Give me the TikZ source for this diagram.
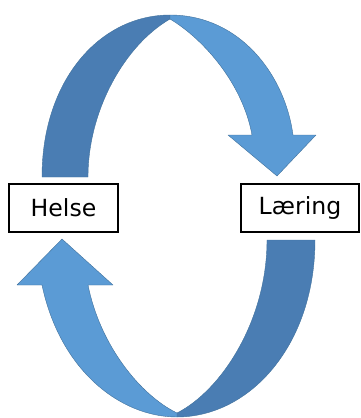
\documentclass[tikz,border=0pt]{standalone}
\usepackage{fontspec}
\setmainfont{DejaVu Sans}
\usepackage{tikz}
\definecolor{frontblue}{HTML}{5B9BD5}
\definecolor{backblue}{HTML}{4A7DB3}
\definecolor{edgeblue}{HTML}{41719C}

\begin{document}
\begin{tikzpicture}[x=1pt, y=-1pt,
    box/.style={draw=black, line width=1.4pt, fill=white, minimum height=48pt,
                inner sep=0pt, font=\fontsize{23.6}{28}\selectfont},
    front/.style={fill=frontblue, draw=edgeblue, line width=0.4pt, line join=round},
    back/.style={fill=backblue, draw=edgeblue, line width=0.4pt, line join=round}
]
  \useasboundingbox (0,0) rectangle (361,418);

  % oberer Pfeil (Helse -> Laering), hinterer Teil
  \path[back] (42,177) .. controls (42,80) and (100,15) .. (170,15)
     -- (170,19) .. controls (125,45) and (88,110) .. (88,177) -- cycle;

  % oberer Pfeil, vorderer Teil mit Spitze
  \path[front] (170,15) .. controls (240,15) and (285,75) .. (293,135)
     -- (316,135) -- (277,176) -- (228,135) -- (252,135)
     .. controls (243,85) and (205,40) .. (170,19) -- cycle;

  % unterer Pfeil (Laering -> Helse), hinterer Teil
  \path[back] (315,240) .. controls (315,345) and (250,417) .. (177,417)
     -- (177,413) .. controls (222,390) and (267,320) .. (267,240) -- cycle;

  % unterer Pfeil, vorderer Teil mit Spitze
  \path[front] (177,417) .. controls (120,417) and (60,370) .. (42,285)
     -- (17,285) -- (62,239) -- (113,285) -- (88,285)
     .. controls (100,345) and (140,395) .. (177,413) -- cycle;

  % Kaesten
  \node[box, minimum width=109pt] (helse) at (63.5,208) {Helse};
  \node[box, minimum width=118pt] (laering) at (300,208) {Læring};

\end{tikzpicture}
\end{document}
